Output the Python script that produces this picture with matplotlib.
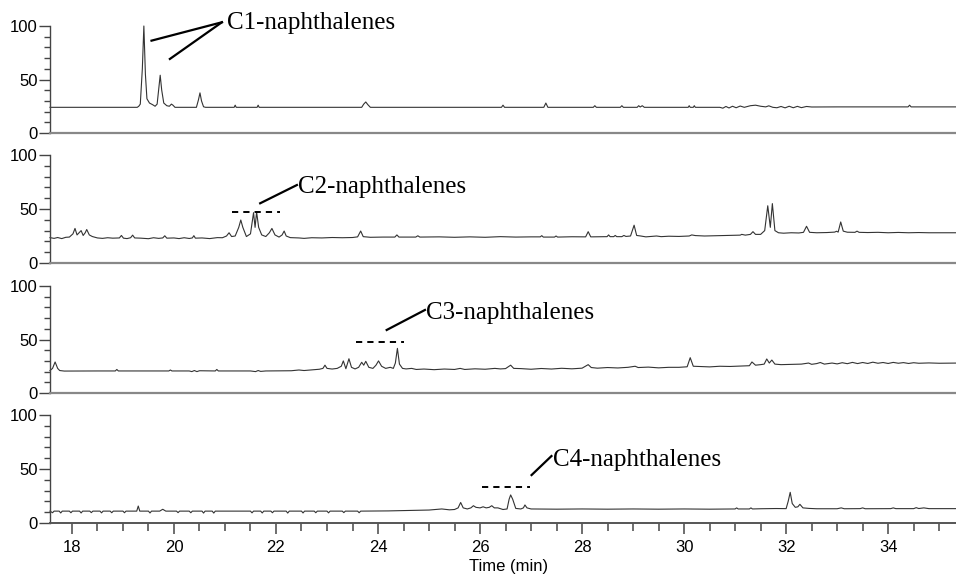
import matplotlib
matplotlib.use("Agg")
import matplotlib.pyplot as plt
from matplotlib.ticker import MultipleLocator

# retention time (min) / relative abundance (%)
t1 = [17.57, 19.28, 19.31, 19.34, 19.38, 19.41, 19.44, 19.47, 19.52, 19.58, 19.63, 19.67, 19.71, 19.73,
      19.76, 19.80, 19.86, 19.91, 19.95, 19.98, 20.02, 20.44, 20.48, 20.51, 20.54, 20.58, 20.62, 21.18,
      21.20, 21.22, 21.63, 21.65, 21.67, 23.68, 23.72, 23.76, 23.80, 23.85, 26.42, 26.45, 26.48, 27.25,
      27.29, 27.33, 28.22, 28.25, 28.28, 28.75, 28.78, 28.81, 29.08, 29.11, 29.14, 29.18, 29.22, 30.08,
      30.10, 30.12, 30.18, 30.20, 30.22, 30.70, 30.76, 30.82, 30.88, 30.95, 31.02, 31.10, 31.18, 31.30,
      31.40, 31.50, 31.60, 31.66, 31.74, 31.82, 31.90, 31.98, 32.06, 32.14, 32.22, 32.30, 32.40, 32.50,
      33.00, 33.50, 34.39, 34.42, 34.45, 35.40]
y1 = [24, 24, 25, 27, 60, 100, 55, 32, 28, 26.5, 25, 27, 45, 54,
      40, 28, 25.5, 25, 27, 26, 24, 24, 31, 37.5, 30, 24.5, 24, 24,
      26, 24, 24, 26, 24, 24, 27, 29, 26.5, 24, 24, 26, 24, 24,
      28, 24, 24, 25.5, 24, 24, 25.5, 24, 24, 25.5, 24.3, 25.5, 24, 24,
      25.5, 24, 24, 25.5, 24, 24, 23.2, 24.8, 23.4, 25, 23.6, 25.2, 24, 25.5,
      26, 25, 24.4, 25.4, 24, 23.6, 24.8, 23.5, 25, 23.6, 24.9, 23.7, 24.8, 24.3,
      24.4, 24.4, 24.4, 26, 24.4, 24.4]

t2 = [17.57, 17.65, 17.72, 17.80, 17.88, 17.95, 18.02, 18.06, 18.10, 18.14, 18.18, 18.22, 18.26, 18.29,
      18.34, 18.40, 18.50, 18.60, 18.70, 18.80, 18.93, 18.97, 19.01, 19.08, 19.15, 19.19, 19.23, 19.35,
      19.50, 19.60, 19.70, 19.78, 19.82, 19.86, 20.00, 20.10, 20.20, 20.30, 20.36, 20.39, 20.42, 20.55,
      20.70, 20.85, 20.95, 21.03, 21.08, 21.13, 21.20, 21.27, 21.31, 21.35, 21.42, 21.50, 21.56, 21.59,
      21.62, 21.66, 21.72, 21.80, 21.87, 21.92, 21.98, 22.06, 22.12, 22.16, 22.20, 22.28, 22.45, 22.55,
      22.70, 22.90, 23.10, 23.30, 23.50, 23.60, 23.66, 23.71, 23.85, 24.10, 24.33, 24.37, 24.41, 24.74,
      24.78, 24.82, 25.20, 25.50, 25.80, 26.10, 26.40, 26.70, 27.00, 27.18, 27.21, 27.24, 27.46, 27.49,
      27.52, 27.80, 28.07, 28.12, 28.17, 28.49, 28.52, 28.55, 28.62, 28.65, 28.68, 28.78, 28.82, 28.86,
      28.95, 29.02, 29.07, 29.15, 29.25, 29.35, 29.46, 29.55, 29.70, 29.90, 30.10, 30.15, 30.22, 30.40,
      30.60, 30.77, 30.95, 31.10, 31.13, 31.20, 31.30, 31.35, 31.40, 31.50, 31.58, 31.64, 31.69, 31.73,
      31.78, 31.85, 31.95, 32.10, 32.25, 32.34, 32.40, 32.46, 32.60, 32.80, 32.95, 32.99, 33.02, 33.07,
      33.12, 33.20, 33.35, 33.39, 33.43, 33.60, 33.80, 34.00, 34.20, 34.40, 34.60, 34.80, 35.00, 35.40]
y2 = [23.5, 22.8, 23.6, 22.6, 23.8, 24, 27, 32, 26, 28, 30, 25.5, 28, 31,
      26, 24.5, 23.2, 22.8, 23.4, 23, 23.2, 25.5, 23, 22.6, 23.4, 25.8, 23.2, 23,
      22.5, 23.4, 22.8, 23.2, 25.2, 23, 23.2, 22.6, 23.4, 22.7, 23.2, 25.3, 23, 23.2,
      22.6, 23.5, 23.4, 25, 28, 24.5, 25, 33, 39.8, 33, 24.5, 27, 46.6, 33,
      47.2, 33, 26, 24.5, 28, 32, 26, 24, 26, 29.6, 25, 23.5, 23.2, 22.8,
      23.4, 23.2, 23.6, 23.4, 23.6, 24.2, 29.6, 24.4, 23.8, 24, 24, 26, 24, 24,
      25.2, 24, 24.2, 23.8, 24.2, 23.8, 24.4, 24, 24.2, 24.2, 25.3, 24, 24, 25,
      24, 24.3, 24.2, 29, 24.2, 24.4, 26, 24.4, 24.4, 25.5, 24.4, 24.4, 25.5, 24.6,
      25, 35, 25.5, 25, 24.2, 24.6, 25, 24.4, 24.8, 24.6, 25, 26, 25.4, 25,
      25.2, 25.4, 25.6, 25.8, 26.5, 25.8, 26.5, 29, 26.5, 26.5, 30, 53, 33, 55,
      30, 28, 27.6, 28, 27.8, 28.4, 34, 28.4, 28, 28.2, 28.6, 29.4, 28.6, 38,
      29.5, 28.5, 28.4, 29.5, 28.4, 28.2, 28.4, 28, 28.3, 28, 28.2, 28, 28, 28]

t3 = [17.57, 17.62, 17.67, 17.72, 17.76, 17.85, 18.20, 18.50, 18.85, 18.88, 18.91, 19.50, 19.90, 19.93,
      19.96, 20.30, 20.35, 20.40, 20.45, 20.50, 20.81, 20.84, 20.87, 21.50, 21.60, 21.65, 21.70, 21.80,
      22.30, 22.45, 22.55, 22.70, 22.85, 22.92, 22.96, 23.00, 23.10, 23.20, 23.28, 23.32, 23.37, 23.43,
      23.48, 23.55, 23.62, 23.68, 23.72, 23.76, 23.82, 23.90, 23.96, 24.01, 24.07, 24.15, 24.24, 24.30,
      24.34, 24.38, 24.42, 24.48, 24.55, 24.66, 24.75, 24.90, 25.10, 25.30, 25.50, 25.61, 25.70, 25.90,
      26.10, 26.29, 26.40, 26.50, 26.60, 26.66, 26.80, 27.00, 27.20, 27.40, 27.60, 27.80, 28.00, 28.12,
      28.18, 28.30, 28.50, 28.70, 28.90, 29.04, 29.10, 29.30, 29.50, 29.70, 29.90, 30.06, 30.12, 30.18,
      30.30, 30.50, 30.70, 30.90, 31.10, 31.28, 31.33, 31.40, 31.50, 31.57, 31.62, 31.67, 31.72, 31.78,
      31.90, 32.10, 32.30, 32.44, 32.50, 32.60, 32.67, 32.75, 32.90, 33.00, 33.10, 33.20, 33.30, 33.40,
      33.50, 33.60, 33.70, 33.80, 33.90, 34.00, 34.10, 34.20, 34.30, 34.40, 34.50, 34.60, 34.80, 35.00,
      35.40]
y3 = [21, 23, 29, 23, 21, 20.5, 20.6, 20.6, 20.6, 22, 20.6, 20.6, 20.6, 21.5,
      20.6, 20.6, 20, 21, 20, 20.8, 20.6, 22, 20.6, 20.6, 20, 21, 20.2, 20.6,
      20.8, 21.5, 21, 21.6, 22.2, 23, 26, 23, 22.4, 23, 25, 30, 22.7, 32,
      24, 22.5, 24, 28.7, 26, 29.6, 24, 23, 26, 30, 25, 23, 24, 23,
      28, 41.7, 27, 23, 22.5, 23, 22, 22.4, 21.8, 22.4, 22, 23, 22, 22.6,
      22.2, 23, 22.5, 22.8, 26, 23, 22.8, 22.2, 22.9, 22.4, 23.1, 22.6, 23.2, 26.5,
      23.8, 23.2, 23.8, 23.4, 24, 25, 23.8, 24.2, 23.5, 24, 24, 24.5, 33, 25,
      24.8, 24.4, 25, 24.8, 25.2, 25.5, 29, 26, 26.5, 27, 31.8, 28, 30.8, 27,
      26.5, 26.8, 27, 28, 26.8, 27.5, 28.5, 27, 28, 27.2, 28.3, 27.4, 28.6, 27.5,
      28.5, 27.6, 28.8, 27.8, 28.5, 27.6, 28.6, 27.8, 28.4, 27.6, 28.3, 27.8, 28.1, 27.8,
      28]

t4 = [17.57, 17.62, 17.65, 17.75, 17.78, 17.81, 17.95, 17.98, 18.01, 18.15, 18.18, 18.21, 18.35, 18.38,
      18.41, 18.55, 18.58, 18.61, 18.75, 18.78, 18.81, 19.00, 19.03, 19.06, 19.27, 19.30, 19.33, 19.50,
      19.53, 19.56, 19.72, 19.78, 19.84, 20.05, 20.08, 20.11, 20.30, 20.33, 20.36, 20.55, 20.58, 20.61,
      20.75, 20.78, 20.81, 21.50, 21.53, 21.56, 21.70, 21.73, 21.76, 21.90, 21.93, 21.96, 22.20, 22.23,
      22.26, 22.50, 22.53, 22.56, 22.75, 22.78, 22.81, 23.00, 23.03, 23.06, 23.30, 23.33, 23.36, 23.60,
      23.63, 23.66, 24.20, 24.50, 24.80, 25.00, 25.25, 25.40, 25.50, 25.57, 25.62, 25.67, 25.75, 25.82,
      25.87, 25.92, 26.00, 26.06, 26.12, 26.18, 26.23, 26.28, 26.35, 26.45, 26.53, 26.57, 26.60, 26.64,
      26.70, 26.80, 26.85, 26.88, 26.92, 27.00, 27.50, 28.00, 28.50, 29.00, 29.50, 30.00, 30.50, 31.00,
      31.03, 31.06, 31.28, 31.31, 31.34, 31.50, 31.80, 32.00, 32.04, 32.08, 32.12, 32.18, 32.23, 32.27,
      32.33, 32.45, 32.60, 33.00, 33.08, 33.14, 33.45, 33.50, 33.55, 34.05, 34.10, 34.15, 34.50, 34.55,
      34.60, 34.70, 34.80, 35.40]
y4 = [11, 9.5, 11, 11, 9.3, 11, 11, 9.5, 11, 11, 9.3, 11, 11, 9.6,
      11, 11, 9.4, 11, 11, 9.5, 11, 11, 9.5, 11, 11, 15.7, 11, 11,
      9.3, 11, 11, 12.7, 11, 11, 9.6, 11, 11, 9.5, 11, 11, 9.2, 11,
      11, 9.2, 11, 11, 9.4, 11, 11, 9.3, 11, 11, 9.5, 11, 11, 9.2,
      11, 11, 9.3, 11, 11, 9.5, 11, 11, 9.4, 11, 11, 9.6, 11, 11,
      9.5, 11, 11.2, 11.5, 11.8, 12, 13, 12.2, 12.5, 14, 19, 14, 13, 14,
      16, 14.5, 14, 15, 14, 14.5, 16, 14, 14, 12.5, 13, 22, 26, 22,
      13.5, 13, 14, 16.7, 14, 13, 12.8, 13, 12.8, 13, 12.8, 13, 12.8, 13,
      14, 13, 13, 14, 13, 13.2, 13.4, 13.3, 20, 28.4, 18, 14.5, 15, 17.3,
      14, 13.5, 13.2, 13.2, 14, 13.2, 13.3, 14, 13.2, 13.3, 14, 13.3, 13.3, 14.2,
      13.4, 14, 13.3, 13.3]

times = [t1, t2, t3, t4]
signals = [y1, y2, y3, y4]
labels = ["C1-naphthalenes", "C2-naphthalenes", "C3-naphthalenes", "C4-naphthalenes"]

# label anchor (time, %) for each panel, leader line ends, dashed bracket
label_pos = [(21.03, 103), (22.43, 70.4), (24.95, 74.8), (27.43, 58.3)]
leaders = [[((20.94, 103.5), (19.56, 86.3)), ((20.94, 103.5), (19.92, 69.2))],
           [((22.41, 72.2), (21.69, 55.3))],
           [((24.92, 77.6), (24.17, 58.9))],
           [((27.40, 62.0), (27.01, 44.4))]]
brackets = [None, (21.13, 22.08, 47.5), (23.57, 24.51, 47.9), (26.03, 26.98, 33.6)]

W, H = 956, 577
fig = plt.figure(figsize=(W / 100, H / 100), dpi=100)
tops = [26, 155, 286, 415]
bots = [133, 263, 393, 523]
x0, x1 = 17.57, 35.33

for i in range(4):
    ax = fig.add_axes([50 / W, 1 - bots[i] / H, (W - 50) / W, (bots[i] - tops[i]) / H])
    ax.plot(times[i], signals[i], color="#333333", lw=0.8, clip_on=False)
    ax.set_xlim(x0, x1)
    ax.set_ylim(0, 100)
    ax.spines["top"].set_visible(False)
    ax.spines["right"].set_visible(False)
    ax.spines["left"].set_color("#444444")
    ax.spines["left"].set_linewidth(1.0)
    ax.yaxis.set_major_locator(MultipleLocator(50))
    ax.yaxis.set_minor_locator(MultipleLocator(10))
    ax.tick_params(axis="y", which="major", length=8, width=1, color="#444444", pad=1, labelsize=12)
    ax.tick_params(axis="y", which="minor", length=4, width=1, color="#444444")
    for lb in ax.get_yticklabels():
        lb.set_fontfamily("Liberation Sans")
    if i < 3:
        ax.spines["bottom"].set_color("#888888")
        ax.spines["bottom"].set_linewidth(1.6)
        ax.tick_params(axis="x", which="both", bottom=False, labelbottom=False)
    else:
        ax.spines["bottom"].set_color("#555555")
        ax.spines["bottom"].set_linewidth(1.4)
        ax.xaxis.set_major_locator(MultipleLocator(2))
        ax.xaxis.set_minor_locator(MultipleLocator(0.5))
        ax.tick_params(axis="x", which="major", length=8, width=1.2, color="#555555", pad=4, labelsize=12)
        ax.tick_params(axis="x", which="minor", length=6, width=1.2, color="#555555")
        for lb in ax.get_xticklabels():
            lb.set_fontfamily("Liberation Sans")
        ax.set_xlabel("Time (min)", fontsize=12, family="Liberation Sans")
        ax.xaxis.set_label_coords((509 - 50) / (W - 50), -0.335)

    for (a, b) in leaders[i]:
        ax.plot([a[0], b[0]], [a[1], b[1]], color="black", lw=1.6, clip_on=False)
    if brackets[i] is not None:
        xa, xb, yb = brackets[i]
        ax.plot([xa, xb], [yb, yb], color="black", lw=1.4, dashes=(3.2, 2.6), clip_on=False)
    ax.text(label_pos[i][0], label_pos[i][1], labels[i], fontsize=18, family="Liberation Serif",
            ha="left", va="center", clip_on=False)

fig.savefig("out.png", dpi=100)
